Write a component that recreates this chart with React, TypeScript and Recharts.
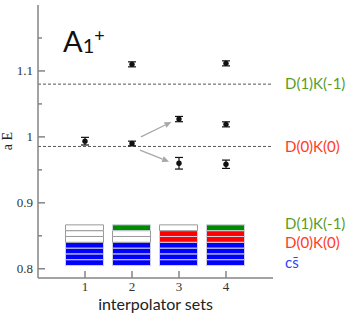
import {
  ComposedChart,
  Bar,
  Cell,
  Scatter,
  ErrorBar,
  XAxis,
  YAxis,
  ReferenceLine,
} from 'recharts';

// interpolator sets on the x axis
const sets = [1, 2, 3, 4];
const yMajor = [0.8, 0.9, 1.0, 1.1];
const yMinor = [0.85, 0.95, 1.05, 1.15];

// energy levels: set, aE, error
const levelSet = [1, 2, 2, 3, 3, 4, 4, 4];
const levelE = [0.9935, 1.11, 0.99, 1.027, 0.96, 1.1115, 1.019, 0.9585];
const levelErr = [0.0058, 0.0038, 0.0035, 0.004, 0.0088, 0.0038, 0.0038, 0.0063];

// non-interacting thresholds
const thresholdNames = ['D(1)K(-1)', 'D(0)K(0)'];
const thresholdE = [1.08, 0.9855];

// arrows from set 2 level to the split set 3 levels
const arrowFrom = [
  [2.19, 1.0],
  [2.17, 0.98],
];
const arrowTo = [
  [2.84, 1.0227],
  [2.79, 0.9623],
];

// operator basis blocks, rows bottom to top
const rowOps = ['cs', 'cs', 'cs', 'cs', 'DK0', 'DK0', 'DK1'];
const setOps = [['cs'], ['cs', 'DK1'], ['cs', 'DK0'], ['cs', 'DK0', 'DK1']];
const blockBase = 0.805;
const rowHeight = 0.0088;

// legend for the blocks
const opNames = ['D(1)K(-1)', 'D(0)K(0)', 'cs\u0304'];
const opLabelE = [0.868, 0.839, 0.809];

const opFill: Record<string, string> = { cs: '#0000ff', DK0: '#ff0000', DK1: '#008a00' };
const opText = ['#5b9b1f', '#ff3b1f', '#1f45ff'];
const thresholdText = ['#5b9b1f', '#ff3b1f'];

const axisGray = '#858585';
const serif = '"Liberation Serif", serif';
const sans = 'Lato, "Open Sans", sans-serif';

const blocks = sets.map((s) => {
  const row: Record<string, number> = { set: s, base: blockBase };
  rowOps.forEach((_, i) => (row[`r${i}`] = rowHeight));
  return row;
});

const levels = levelSet.map((s, i) => ({ set: s, e: levelE[i], err: levelErr[i] }));

const isMajor = (v: number) => yMajor.some((m) => Math.abs(m - v) < 1e-6);
const fmt = (v: number) => String(Math.round(v * 10) / 10);

const LeftTick = ({ x, y, payload }: any) => {
  const major = isMajor(payload.value);
  return (
    <g>
      <line x1={x} y1={y} x2={x + (major ? 7 : 4)} y2={y} stroke={axisGray} strokeWidth={1.5} />
      {major && (
        <text x={x - 5} y={y} dy={4.5} textAnchor="end" fontFamily={serif} fontSize={13} fill="#333">
          {fmt(payload.value)}
        </text>
      )}
    </g>
  );
};

const RightTick = ({ x, y, payload }: any) => {
  const major = isMajor(payload.value);
  return <line x1={x - (major ? 7 : 4)} y1={y} x2={x} y2={y} stroke={axisGray} strokeWidth={1.5} />;
};

const BottomTick = ({ x, y, payload }: any) => (
  <g>
    <line x1={x} y1={y} x2={x} y2={y - 7} stroke={axisGray} strokeWidth={1.5} />
    <text x={x} y={y + 13} textAnchor="middle" fontFamily={serif} fontSize={13} fill="#333">
      {payload.value}
    </text>
  </g>
);

const TopTick = ({ x, y }: any) => (
  <line x1={x} y1={y} x2={x} y2={y + 7} stroke={axisGray} strokeWidth={1.5} />
);

const Arrow = (p: any) => {
  const { x1, y1, x2, y2 } = p;
  const a = Math.atan2(y2 - y1, x2 - x1);
  const len = 7;
  const w = 3;
  const bx = x2 - len * Math.cos(a);
  const by = y2 - len * Math.sin(a);
  const pts = [
    `${x2},${y2}`,
    `${bx + w * Math.sin(a)},${by - w * Math.cos(a)}`,
    `${bx - w * Math.sin(a)},${by + w * Math.cos(a)}`,
  ].join(' ');
  return (
    <g>
      <line x1={x1} y1={y1} x2={bx} y2={by} stroke="#a8a8a8" strokeWidth={1.3} />
      <polygon points={pts} fill="#a8a8a8" />
    </g>
  );
};

const Dot = (p: any) => <circle cx={p.cx} cy={p.cy} r={2.7} fill="#111" />;

export default function App() {
  return (
    <div style={{ position: 'absolute', left: 0, top: 0, background: '#fff' }}>
      <ComposedChart width={349} height={315} data={blocks} margin={{ top: 5, right: 76, bottom: 0, left: 0 }}>
        <XAxis
          xAxisId="b"
          dataKey="set"
          type="number"
          domain={[0, 5]}
          ticks={sets}
          interval={0}
          height={37}
          tickSize={0}
          tickMargin={0}
          tickLine={false}
          tick={<BottomTick />}
          axisLine={{ stroke: axisGray, strokeWidth: 1.5 }}
          label={{ value: 'interpolator sets', position: 'insideBottom', offset: 5, fontFamily: sans, fontSize: 16, fill: '#222' }}
        />
        <XAxis
          xAxisId="t"
          orientation="top"
          type="number"
          domain={[0, 5]}
          ticks={sets}
          interval={0}
          height={0}
          tickSize={0}
          tickMargin={0}
          tickLine={false}
          tick={<TopTick />}
          axisLine={{ stroke: axisGray, strokeWidth: 1.5 }}
        />
        <YAxis
          yAxisId="l"
          type="number"
          domain={[0.786, 1.2]}
          allowDataOverflow
          ticks={[...yMajor, ...yMinor].sort()}
          interval={0}
          width={38}
          tickSize={0}
          tickMargin={0}
          tickLine={false}
          tick={<LeftTick />}
          axisLine={{ stroke: axisGray, strokeWidth: 1.5 }}
        />
        <YAxis
          yAxisId="r"
          orientation="right"
          type="number"
          domain={[0.786, 1.2]}
          allowDataOverflow
          ticks={[...yMajor, ...yMinor].sort()}
          interval={0}
          width={0}
          tickSize={0}
          tickMargin={0}
          tickLine={false}
          tick={<RightTick />}
          axisLine={{ stroke: axisGray, strokeWidth: 1.5 }}
        />

        <Bar xAxisId="b" yAxisId="l" dataKey="base" stackId="s" barSize={38} fill="none" isAnimationActive={false} />
        {rowOps.map((op, i) => (
          <Bar key={i} xAxisId="b" yAxisId="l" dataKey={`r${i}`} stackId="s" barSize={38} isAnimationActive={false}>
            {sets.map((s, j) => {
              const on = setOps[j].includes(op);
              return (
                <Cell
                  key={s}
                  fill={on ? opFill[op] : '#fff'}
                  stroke={on ? '#d0d0e0' : '#9a9a9a'}
                  strokeWidth={1}
                />
              );
            })}
          </Bar>
        ))}

        {thresholdE.map((e, i) => (
          <ReferenceLine
            key={i}
            xAxisId="b"
            yAxisId="l"
            y={e}
            stroke="#555"
            strokeWidth={1}
            strokeDasharray="3 2"
            label={{ value: thresholdNames[i], position: 'right', offset: 12, fill: thresholdText[i], fontFamily: sans, fontSize: 15 }}
          />
        ))}
        {opNames.map((n, i) => (
          <ReferenceLine
            key={n}
            xAxisId="b"
            yAxisId="l"
            y={opLabelE[i]}
            stroke="none"
            label={{ value: n, position: 'right', offset: 12, fill: opText[i], fontFamily: sans, fontSize: 15 }}
          />
        ))}
        {arrowFrom.map((f, i) => (
          <ReferenceLine
            key={`a${i}`}
            xAxisId="b"
            yAxisId="l"
            segment={[
              { x: f[0], y: f[1] },
              { x: arrowTo[i][0], y: arrowTo[i][1] },
            ]}
            shape={Arrow}
          />
        ))}

        <Scatter xAxisId="b" yAxisId="l" data={levels} dataKey="e" shape={Dot} isAnimationActive={false}>
          <ErrorBar dataKey="err" direction="y" width={4} stroke="#111" strokeWidth={1.2} />
        </Scatter>

        <text x={63} y={52} fontFamily={sans} fontSize={29} fill="#111">
          A<tspan fontSize={20} dy={1}>1</tspan>
          <tspan fontSize={18} dy={-11}>+</tspan>
        </text>
        <text
          x={12}
          y={141}
          transform="rotate(-90 12 141)"
          textAnchor="middle"
          fontFamily={serif}
          fontSize={14}
          fill="#222"
        >
          a E
        </text>
      </ComposedChart>
    </div>
  );
}
